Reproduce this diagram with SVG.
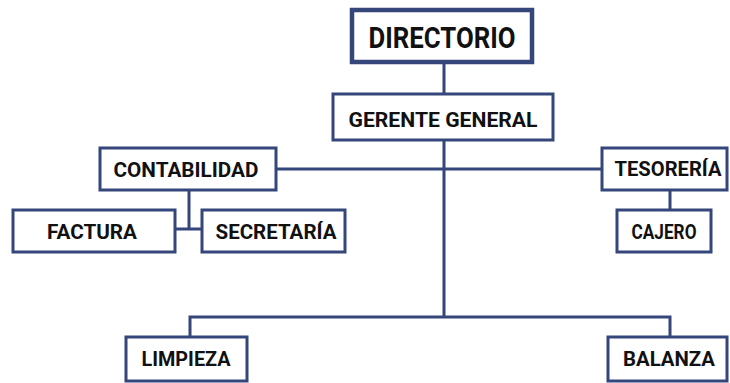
<svg xmlns="http://www.w3.org/2000/svg" width="730" height="383" viewBox="0 0 730 383">
<style>
.box{fill:#fff;stroke:#34467a;stroke-width:3}
.main{fill:#fff;stroke:#34467a;stroke-width:4.5}
.ln{fill:none;stroke:#34467a;stroke-width:3}
text{font-family:Roboto,"Liberation Sans",sans-serif;font-weight:bold;fill:#111;text-anchor:middle;font-size:21px}
</style>
<rect width="730" height="383" fill="#fff"/>
<g id="connectors">
<path class="ln" d="M444 63V93M444 141V317M190 336V317H670V336M276 169H601M189 190V229M175 229H202M670 190V209"/>
</g>
<g id="directorio"><rect class="main" x="352" y="10" width="180" height="52"/><text x="442" y="48" style="font-size:29px" textLength="147" lengthAdjust="spacingAndGlyphs">DIRECTORIO</text></g>
<g id="gerente"><rect class="box" x="333" y="94" width="220" height="46"/><text x="443" y="127" textLength="189" lengthAdjust="spacingAndGlyphs">GERENTE GENERAL</text></g>
<g id="contabilidad"><rect class="box" x="100" y="148" width="176" height="42"/><text x="186" y="177" textLength="145" lengthAdjust="spacingAndGlyphs">CONTABILIDAD</text></g>
<g id="tesoreria"><rect class="box" x="602" y="148" width="125" height="42"/><text x="668" y="176" textLength="107" lengthAdjust="spacingAndGlyphs">TESORERÍA</text></g>
<g id="factura"><rect class="box" x="13" y="210" width="162" height="42"/><text x="92" y="239" textLength="90" lengthAdjust="spacingAndGlyphs">FACTURA</text></g>
<g id="secretaria"><rect class="box" x="202" y="210" width="143" height="42"/><text x="276" y="239" textLength="121" lengthAdjust="spacingAndGlyphs">SECRETARÍA</text></g>
<g id="cajero"><rect class="box" x="617" y="210" width="94" height="42"/><text x="664" y="239" textLength="65" lengthAdjust="spacingAndGlyphs">CAJERO</text></g>
<g id="limpieza"><rect class="box" x="126" y="337" width="121" height="44"/><text x="186" y="366" textLength="89" lengthAdjust="spacingAndGlyphs">LIMPIEZA</text></g>
<g id="balanza"><rect class="box" x="608" y="337" width="119" height="44"/><text x="669" y="366" textLength="92" lengthAdjust="spacingAndGlyphs">BALANZA</text></g>
</svg>
